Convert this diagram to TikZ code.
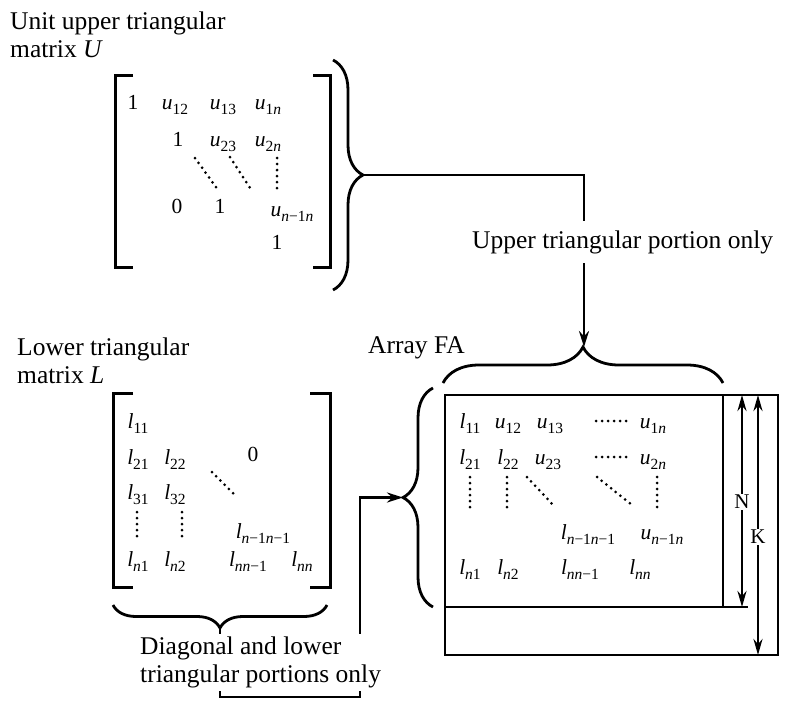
\documentclass[tikz,border=0pt]{standalone}
\usepackage{fontspec}
\setmainfont{Liberation Serif}
\usetikzlibrary{arrows.meta, decorations.pathreplacing}

\newcommand{\ent}[2]{\textit{#1}\raisebox{-0.24em}{\fontsize{15.5}{15.5}\selectfont #2}}
\newcommand{\nn}{\textit{n}}
\newcommand{\mi}{\char"2212\relax}

\begin{document}
\begin{tikzpicture}[x=1pt, y=-1pt,
    txt/.style={font=\fontsize{25.5}{28}\selectfont, align=left, inner sep=0pt},
    ent/.style={font=\fontsize{21.5}{21.5}\selectfont, inner sep=0pt, anchor=base},
    bkt/.style={line width=3pt},
    brc/.style={line width=2.8pt, decorate, decoration={brace, amplitude=#1}},
    dotline/.style={line width=3pt, line cap=round, dash pattern=on 0pt off 6pt},
    arr/.style={line width=2.6pt, -{Stealth[length=16pt, width=10pt]}},
    dim/.style={line width=2.6pt, {Stealth[length=16pt, width=9pt]}-{Stealth[length=16pt, width=9pt]}}
]
    \useasboundingbox (0,0) rectangle (785,707);

    % Upper matrix U
    \node[txt, anchor=base west] (utitle) at (10,57) {Unit upper triangular\\matrix \textit{U}};
    \draw[bkt] (133,75) -- (115,75) -- (115,267) -- (133,267);
    \draw[bkt] (313,75) -- (330,75) -- (330,267) -- (313,267);
    \node[ent] (ua11) at (133,109) {1};
    \node[ent] (ua12) at (175,109) {\ent{u}{12}};
    \node[ent] (ua13) at (223,109) {\ent{u}{13}};
    \node[ent] (ua1n) at (268,109) {\ent{u}{1\nn}};
    \node[ent] (ua22) at (178,146) {1};
    \node[ent] (ua23) at (223,146) {\ent{u}{23}};
    \node[ent] (ua2n) at (268,146) {\ent{u}{2\nn}};
    \draw[dotline] (195,158) -- (218,190);
    \draw[dotline] (230,157) -- (250,188);
    \draw[dotline] (277,158) -- (277,188);
    \node[ent] (uzero) at (177,213) {0};
    \node[ent] (uamm) at (220,213) {1};
    \node[ent] (uamn) at (292,216) {\ent{u}{\nn\mi1\nn}};
    \node[ent] (uann) at (277,249) {1};
    \draw[brc=30] (333,60) -- (333,290);
    \coordinate (utip) at (363,175);

    % Lower matrix L
    \node[txt, anchor=base west] (ltitle) at (17,383) {Lower triangular\\matrix \textit{L}};
    \draw[bkt] (133,393) -- (113,393) -- (113,587) -- (133,587);
    \draw[bkt] (310,393) -- (330,393) -- (330,587) -- (310,587);
    \node[ent] (la11) at (138,428) {\ent{l}{11}};
    \node[ent] (la21) at (138,464) {\ent{l}{21}};
    \node[ent] (la22) at (175,464) {\ent{l}{22}};
    \node[ent] (lzero) at (253,461) {0};
    \node[ent] (la31) at (138,499) {\ent{l}{31}};
    \node[ent] (la32) at (175,499) {\ent{l}{32}};
    \draw[dotline] (212,472) -- (237,497);
    \draw[dotline] (137,512) -- (137,540);
    \draw[dotline] (182,512) -- (182,540);
    \node[ent] (lamm) at (263,538) {\ent{l}{\nn\mi1\nn\mi1}};
    \node[ent] (lan1) at (138,566) {\ent{l}{\nn1}};
    \node[ent] (lan2) at (175,566) {\ent{l}{\nn2}};
    \node[ent] (lanm) at (248,566) {\ent{l}{\nn\nn\mi1}};
    \node[ent] (lann) at (302,566) {\ent{l}{\nn\nn}};
    \draw[brc=23] (327,605) -- (113,605);
    \coordinate (ltip) at (220,628);

    % Array FA
    \node[txt, anchor=base west] (fatitle) at (368,353) {Array FA};
    \draw[brc=36] (443,383) -- (723,383);
    \coordinate (fatip) at (584,347);
    \draw[brc=30] (433,607) -- (433,388);
    \coordinate (fltip) at (403,497.5);
    \draw[line width=2.6pt] (445,395) rectangle (778,655);
    \draw[line width=2.6pt] (723,395) -- (723,607);
    \draw[line width=2.6pt] (445,607) -- (748,607);
    \node[ent] (fa11) at (470,428) {\ent{l}{11}};
    \node[ent] (fa12) at (508,428) {\ent{u}{12}};
    \node[ent] (fa13) at (550,428) {\ent{u}{13}};
    \node[ent] (fa1n) at (653,428) {\ent{u}{1\nn}};
    \node[ent] (fa21) at (470,464) {\ent{l}{21}};
    \node[ent] (fa22) at (508,464) {\ent{l}{22}};
    \node[ent] (fa23) at (548,464) {\ent{u}{23}};
    \node[ent] (fa2n) at (653,464) {\ent{u}{2\nn}};
    \draw[dotline] (596,421) -- (627,421);
    \draw[dotline] (596,457) -- (627,457);
    \draw[dotline] (470,477) -- (470,507);
    \draw[dotline] (507,477) -- (507,507);
    \draw[dotline] (527,477) -- (555,507);
    \draw[dotline] (597,477) -- (632,505);
    \draw[dotline] (657,477) -- (657,507);
    \node[ent] (famm) at (588,539) {\ent{l}{\nn\mi1\nn\mi1}};
    \node[ent] (famn) at (662,539) {\ent{u}{\nn\mi1\nn}};
    \node[ent] (fan1) at (470,574) {\ent{l}{\nn1}};
    \node[ent] (fan2) at (508,574) {\ent{l}{\nn2}};
    \node[ent] (fanm) at (580,574) {\ent{l}{\nn\nn\mi1}};
    \node[ent] (fann) at (640,574) {\ent{l}{\nn\nn}};

    % Dimension arrows
    \coordinate (ntop) at (742,395);
    \coordinate (nbot) at (742,607);
    \coordinate (ktop) at (758,395);
    \coordinate (kbot) at (758,655);
    \draw[dim] (ntop) -- (nbot);
    \draw[dim] (ktop) -- (kbot);
    \node[ent, fill=white, inner sep=1pt, font=\fontsize{21}{21}\selectfont, anchor=center] (nlab) at (742,502) {N};
    \node[ent, fill=white, inner sep=1pt, font=\fontsize{21}{21}\selectfont, anchor=center] (klab) at (758,537) {K};

    % Connectors with labels
    \coordinate (lbend1) at (220,697);
    \coordinate (lbend2) at (360,697);
    \draw[arr] (utip) -| (fatip);
    \draw[arr] (ltip) -- (lbend1) -- (lbend2) |- (fltip);
    \node[txt, fill=white, inner ysep=9pt, inner xsep=2pt, anchor=base west] (uponly) at (470,248) {Upper triangular portion only};
    \node[txt, fill=white, inner sep=3pt, anchor=north west] (lowonly) at (137,634) {Diagonal and lower\\triangular portions only};
\end{tikzpicture}
\end{document}
